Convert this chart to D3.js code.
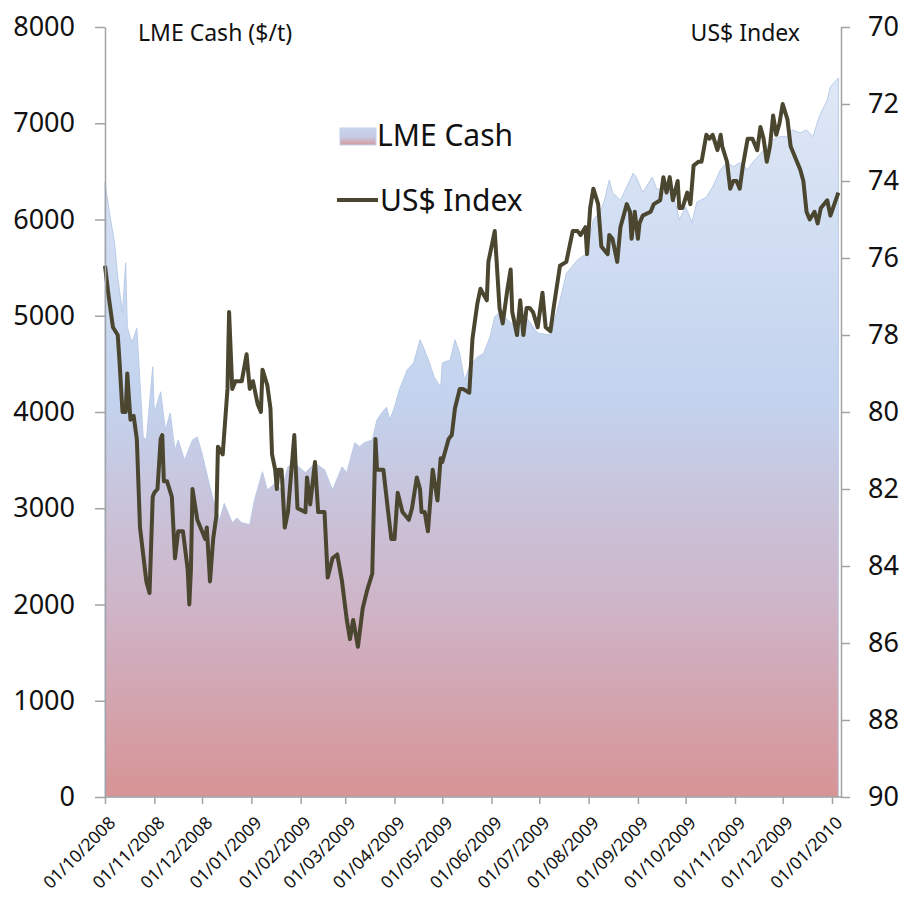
<!DOCTYPE html>
<html>
<head>
<meta charset="utf-8">
<script src="https://cdn.jsdelivr.net/npm/d3@7"></script>
<style>
  body { margin: 0; background: #fff; }
  text { font-family: "Noto Sans", sans-serif; fill: #111; }
  .axis path, .axis line { stroke: #a3a3a3; stroke-width: 1.5; }
</style>
</head>
<body>
<div class="chart"></div>
<script>
// LME cash price ($/t)
var lmeDates = ["2008-10-01","2008-10-04","2008-10-07","2008-10-09","2008-10-12","2008-10-14","2008-10-15","2008-10-18","2008-10-21","2008-10-25","2008-10-27","2008-10-31",
  "2008-11-01","2008-11-05","2008-11-08","2008-11-11","2008-11-14","2008-11-16","2008-11-20","2008-11-25","2008-11-28",
  "2008-12-01","2008-12-06","2008-12-08","2008-12-12","2008-12-15","2008-12-20","2008-12-23","2008-12-26","2008-12-31",
  "2009-01-03","2009-01-08","2009-01-11","2009-01-16","2009-01-20","2009-01-24","2009-01-28",
  "2009-02-04","2009-02-10","2009-02-16","2009-02-21","2009-02-27",
  "2009-03-02","2009-03-07","2009-03-10","2009-03-13","2009-03-18","2009-03-21","2009-03-24","2009-03-27","2009-03-29",
  "2009-04-01","2009-04-04","2009-04-09","2009-04-13","2009-04-17","2009-04-20","2009-04-23","2009-04-26","2009-04-30",
  "2009-05-01","2009-05-06","2009-05-09","2009-05-12","2009-05-15","2009-05-18","2009-05-23","2009-05-27","2009-05-31",
  "2009-06-03","2009-06-06","2009-06-11","2009-06-17","2009-06-23","2009-06-30",
  "2009-07-08","2009-07-14","2009-07-18","2009-07-25","2009-07-31",
  "2009-08-04","2009-08-08","2009-08-11","2009-08-14","2009-08-16","2009-08-21","2009-08-25","2009-08-29","2009-08-31",
  "2009-09-04","2009-09-10","2009-09-13","2009-09-19","2009-09-23","2009-09-27",
  "2009-10-01","2009-10-05","2009-10-08","2009-10-14","2009-10-18","2009-10-23","2009-10-27","2009-10-31",
  "2009-11-04","2009-11-09","2009-11-12","2009-11-19","2009-11-25","2009-11-29",
  "2009-12-04","2009-12-07","2009-12-12","2009-12-16","2009-12-20","2009-12-24","2009-12-29","2009-12-31","2010-01-05"];
var lmeValues = [6380,6050,5760,5400,5030,5550,4880,4720,4870,3740,3710,4470,
  3990,4210,3810,3990,3600,3710,3500,3710,3740,
  3570,3220,3090,2880,3050,2850,2900,2850,2830,
  3090,3380,3190,3260,3190,3430,3470,
  3370,3470,3400,3190,3430,
  3370,3680,3640,3680,3710,3920,3990,4050,3920,
  4050,4230,4440,4510,4750,4640,4510,4360,4260,
  4510,4540,4750,4610,4330,4470,4570,4610,4780,
  4990,5030,4960,4870,4980,4820,
  4800,5160,5440,5580,5650,
  6000,6070,6200,6410,6280,6200,6340,6480,6440,
  6280,6440,6310,6340,6280,6000,
  6130,5970,6180,6230,6340,6520,6590,6550,
  6590,6520,6590,6720,6830,6860,
  6860,6930,6900,6930,6860,7070,7240,7380,7470];

// US$ index
var usdDates = ["2008-10-01","2008-10-03","2008-10-06","2008-10-09","2008-10-10","2008-10-12","2008-10-14","2008-10-15","2008-10-17","2008-10-19","2008-10-21","2008-10-23","2008-10-25","2008-10-27","2008-10-29","2008-10-31",
  "2008-11-01","2008-11-03","2008-11-05","2008-11-06","2008-11-07","2008-11-09","2008-11-12","2008-11-14","2008-11-16","2008-11-19","2008-11-22","2008-11-23","2008-11-24","2008-11-25","2008-11-28",
  "2008-12-01","2008-12-03","2008-12-04","2008-12-06","2008-12-08","2008-12-10","2008-12-11","2008-12-14","2008-12-17","2008-12-18","2008-12-20","2008-12-22","2008-12-26","2008-12-29","2008-12-31",
  "2009-01-02","2009-01-05","2009-01-07","2009-01-08","2009-01-11","2009-01-13","2009-01-14","2009-01-16","2009-01-17","2009-01-18","2009-01-20","2009-01-22","2009-01-24","2009-01-28","2009-01-30",
  "2009-02-04","2009-02-05","2009-02-07","2009-02-10","2009-02-12","2009-02-14","2009-02-16","2009-02-18","2009-02-21","2009-02-24","2009-02-27",
  "2009-03-02","2009-03-04","2009-03-06","2009-03-09","2009-03-12","2009-03-15","2009-03-18","2009-03-20","2009-03-21","2009-03-25","2009-03-28","2009-03-30",
  "2009-04-01","2009-04-03","2009-04-06","2009-04-10","2009-04-12","2009-04-15","2009-04-17","2009-04-18","2009-04-20","2009-04-22","2009-04-25","2009-04-28","2009-04-30",
  "2009-05-01","2009-05-05","2009-05-07","2009-05-09","2009-05-12","2009-05-14","2009-05-18","2009-05-20","2009-05-23","2009-05-25","2009-05-29","2009-05-30",
  "2009-06-03","2009-06-06","2009-06-08","2009-06-11","2009-06-13","2009-06-14","2009-06-17","2009-06-19","2009-06-21","2009-06-23","2009-06-25","2009-06-27","2009-06-30",
  "2009-07-03","2009-07-05","2009-07-08","2009-07-10","2009-07-14","2009-07-18","2009-07-22","2009-07-25","2009-07-27","2009-07-30","2009-07-31",
  "2009-08-02","2009-08-04","2009-08-07","2009-08-09","2009-08-13","2009-08-14","2009-08-16","2009-08-19","2009-08-21","2009-08-25","2009-08-27","2009-08-28","2009-08-30",
  "2009-09-01","2009-09-02","2009-09-04","2009-09-09","2009-09-11","2009-09-15","2009-09-17","2009-09-19","2009-09-21","2009-09-23","2009-09-26","2009-09-27","2009-09-29",
  "2009-10-02","2009-10-04","2009-10-06","2009-10-09","2009-10-11","2009-10-14","2009-10-16","2009-10-18","2009-10-21","2009-10-23","2009-10-24","2009-10-27","2009-10-29","2009-10-31",
  "2009-11-02","2009-11-04","2009-11-06","2009-11-09","2009-11-12","2009-11-15","2009-11-17","2009-11-19","2009-11-21","2009-11-23","2009-11-25","2009-11-27","2009-11-29",
  "2009-12-01","2009-12-04","2009-12-06","2009-12-09","2009-12-12","2009-12-14","2009-12-16","2009-12-18","2009-12-21","2009-12-23","2009-12-25","2009-12-29","2009-12-31","2010-01-05"];
var usdValues = [76.2,76.9,77.8,78.0,78.6,80.0,80.0,79.0,80.2,80.1,80.7,83.0,83.7,84.4,84.7,82.2,
  82.1,82.0,80.7,80.6,81.8,81.8,82.2,83.8,83.1,83.1,84.1,85.0,84.1,82.0,82.8,
  83.1,83.3,83.0,84.4,83.3,82.7,80.9,81.1,79.4,77.4,79.4,79.2,79.2,78.5,79.4,
  79.2,79.8,80.0,78.9,79.3,79.9,81.1,81.5,82.0,81.5,81.5,83.0,82.6,80.6,82.5,
  82.6,81.7,82.4,81.3,82.6,82.6,82.6,84.3,83.8,83.7,84.4,
  85.4,85.9,85.4,86.1,85.1,84.6,84.2,80.7,81.5,81.5,82.6,83.3,
  83.3,82.1,82.6,82.8,82.5,81.7,82.0,82.6,82.6,83.1,81.5,82.3,81.2,
  81.3,80.7,80.6,79.9,79.4,79.4,79.5,78.1,77.2,76.8,77.1,76.1,
  75.3,77.3,77.7,76.8,76.3,77.4,78.0,77.1,78.0,77.3,77.3,77.4,77.8,
  76.9,77.8,77.9,77.3,76.2,76.1,75.3,75.3,75.4,75.2,75.9,
  74.7,74.2,74.6,75.7,75.9,75.4,75.5,76.1,75.2,74.6,74.8,75.5,74.8,
  75.5,75.1,74.9,74.8,74.6,74.5,73.9,74.3,73.9,74.5,74.0,74.7,74.7,
  74.3,74.6,73.6,73.5,73.5,72.8,72.9,72.8,73.2,72.8,73.1,73.5,74.2,74.0,
  74.0,74.2,73.6,72.9,72.9,73.2,72.6,72.9,73.5,73.1,72.3,72.8,72.5,
  72.0,72.4,73.1,73.4,73.7,74.0,74.8,75.0,74.8,75.1,74.7,74.5,74.9,74.3];

var lmeTicks = [0, 1000, 2000, 3000, 4000, 5000, 6000, 7000, 8000];
var usdTicks = [70, 72, 74, 76, 78, 80, 82, 84, 86, 88, 90];

var svgWidth = 905;
var svgHeight = 897;

var margin = { top: 27, left: 105, right: 64, bottom: 100 };
var plotRight = svgWidth - margin.right;
var plotBottom = svgHeight - margin.bottom;

var parseDate = d3.timeParse("%Y-%m-%d");

var lmeData = lmeDates.map((d, i) => ({ date: parseDate(d), value: lmeValues[i] }));
var usdData = usdDates.map((d, i) => ({ date: parseDate(d), value: usdValues[i] }));

var svg = d3.select(".chart")
  .append("svg")
  .attr("width", svgWidth)
  .attr("height", svgHeight);

// x: one tick a month, 01/10/2008 .. 01/01/2010
var xScale = d3.scaleTime()
  .domain([parseDate("2008-10-01"), parseDate("2010-01-01")])
  .range([margin.left, 832]);

var yLeft = d3.scaleLinear()
  .domain([0, 8000])
  .range([plotBottom, margin.top]);

var yRight = d3.scaleLinear()
  .domain([90, 70])
  .range([plotBottom, margin.top]);

// gradient for the area: pale blue at the top, rose at the bottom
var grad = svg.append("defs").append("linearGradient")
  .attr("id", "lmeFill")
  .attr("gradientUnits", "userSpaceOnUse")
  .attr("x1", 0).attr("x2", 0)
  .attr("y1", yLeft(7500)).attr("y2", yLeft(0));
grad.append("stop").attr("offset", 0).attr("stop-color", "#dfe8f6");
grad.append("stop").attr("offset", 0.45).attr("stop-color", "#c3d3ee");
grad.append("stop").attr("offset", 0.74).attr("stop-color", "#cfb4c7");
grad.append("stop").attr("offset", 1).attr("stop-color", "#d79495");

var legGrad = svg.select("defs").append("linearGradient")
  .attr("id", "legFill")
  .attr("x1", 0).attr("x2", 0).attr("y1", 0).attr("y2", 1);
legGrad.append("stop").attr("offset", 0).attr("stop-color", "#c9d7ef");
legGrad.append("stop").attr("offset", 0.55).attr("stop-color", "#c6c8e0");
legGrad.append("stop").attr("offset", 1).attr("stop-color", "#d69a9c");

// LME area
var area = d3.area()
  .x(d => xScale(d.date))
  .y0(yLeft(0))
  .y1(d => yLeft(d.value));

svg.append("path")
  .datum(lmeData)
  .attr("d", area)
  .attr("fill", "url(#lmeFill)")
  .attr("stroke", "#b9cbe8")
  .attr("stroke-width", 1);

// US$ index line
var line = d3.line()
  .x(d => xScale(d.date))
  .y(d => yRight(d.value));

svg.append("path")
  .datum(usdData)
  .attr("d", line)
  .attr("fill", "none")
  .attr("stroke", "#4b4630")
  .attr("stroke-width", 4)
  .attr("stroke-linejoin", "round");

// axes
svg.append("g")
  .attr("class", "axis")
  .attr("transform", `translate(${margin.left},0)`)
  .call(d3.axisLeft(yLeft).tickValues(lmeTicks).tickFormat(d3.format("d")).tickSize(10).tickPadding(20).tickSizeOuter(0))
  .call(g => g.selectAll("text").style("font-size", "27px"));

svg.append("g")
  .attr("class", "axis")
  .attr("transform", `translate(${plotRight},0)`)
  .call(d3.axisRight(yRight).tickValues(usdTicks).tickSize(9).tickPadding(18).tickSizeOuter(0))
  .call(g => g.selectAll("text").style("font-size", "27px"));

var xAxis = svg.append("g")
  .attr("class", "axis")
  .attr("transform", `translate(0,${plotBottom})`)
  .call(d3.axisBottom(xScale).ticks(d3.timeMonth.every(1)).tickFormat(d3.timeFormat("%d/%m/%Y")).tickSize(7).tickSizeOuter(0));

xAxis.select(".domain").remove();
xAxis.append("line")
  .attr("x1", margin.left).attr("x2", plotRight)
  .attr("stroke", "#a3a3a3").attr("stroke-width", 1.5);

xAxis.selectAll(".tick text")
  .style("font-size", "17.5px")
  .attr("text-anchor", "end")
  .attr("dy", null)
  .attr("y", 0)
  .attr("transform", "translate(11,27) rotate(-45)");

// axis titles
svg.append("text")
  .attr("x", 138).attr("y", 41)
  .style("font-size", "23px")
  .text("LME Cash ($/t)");

svg.append("text")
  .attr("x", 800).attr("y", 41)
  .attr("text-anchor", "end")
  .style("font-size", "23px")
  .text("US$ Index");

// legend
svg.append("rect")
  .attr("x", 340).attr("y", 128)
  .attr("width", 36).attr("height", 17)
  .attr("fill", "url(#legFill)")
  .attr("stroke", "#c3d2ec");

svg.append("text")
  .attr("x", 377).attr("y", 146)
  .style("font-size", "30px")
  .text("LME Cash");

svg.append("line")
  .attr("x1", 337).attr("x2", 378)
  .attr("y1", 200).attr("y2", 200)
  .attr("stroke", "#4b4630")
  .attr("stroke-width", 4);

svg.append("text")
  .attr("x", 380).attr("y", 211)
  .style("font-size", "30px")
  .text("US$ Index");
</script>
</body>
</html>
